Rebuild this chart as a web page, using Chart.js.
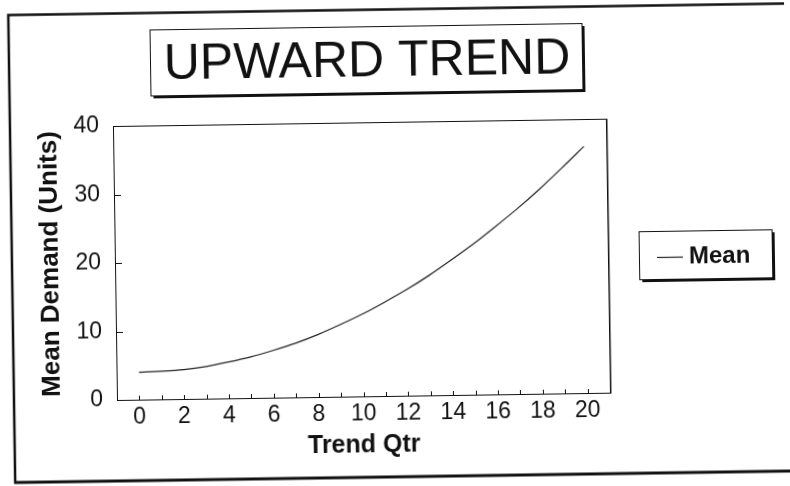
<!DOCTYPE html>
<html>
<head>
<meta charset="utf-8">
<script src="https://cdn.jsdelivr.net/npm/chart.js@4.4.0/dist/chart.umd.min.js"></script>
<style>
  html, body { margin: 0; padding: 0; background: #fff; }
  #wrap { position: relative; width: 790px; height: 486px; overflow: hidden; background: #fff; }
  canvas { display: block; transform: rotate(-0.85deg); transform-origin: 117px 400px; }
</style>
</head>
<body>
<div id="wrap"><canvas id="c" width="790" height="486"></canvas></div>
<script>
// ---- data ----
const titleText = "UPWARD TREND";
const xAxisTitle = "Trend Qtr";
const yAxisTitle = "Mean Demand (Units)";
const seriesName = "Mean";
const trendQtr = [0,1,2,3,4,5,6,7,8,9,10,11,12,13,14,15,16,17,18,19,20];
const meanDemand = [4.0,4.1,4.3,4.7,5.3,6.0,6.9,7.9,9.1,10.5,12.0,13.7,15.5,17.5,19.7,22.0,24.5,27.1,29.9,32.9,36.0];
const xTickLabels = ["0","2","4","6","8","10","12","14","16","18","20"];
const yTickValues = [0,10,20,30,40];

const FONT = "'Liberation Sans', Arial, sans-serif";

const deco = {
  id: 'deco',
  beforeDraw(chart) {
    const ctx = chart.ctx;
    ctx.save();
    ctx.fillStyle = '#fff';
    ctx.fillRect(0, 0, chart.width, chart.height);
    ctx.restore();
  },
  afterDraw(chart) {
    const ctx = chart.ctx;
    const a = chart.chartArea;
    const xs = chart.scales.x, ys = chart.scales.y;
    ctx.save();
    ctx.strokeStyle = '#111';
    ctx.fillStyle = '#111';
    // outer frame
    ctx.lineWidth = 2.5;
    ctx.beginPath();
    ctx.moveTo(800, 13.5); ctx.lineTo(14, 13.5); ctx.lineTo(14, 482);
    ctx.stroke();
    ctx.lineWidth = 3;
    ctx.beginPath();
    ctx.moveTo(13, 481); ctx.lineTo(800, 481);
    ctx.stroke();

    // title box
    const tb = {l: 155, t: 30, r: 587, b: 96};
    ctx.lineWidth = 1;
    ctx.strokeRect(tb.l + 0.5, tb.t + 0.5, tb.r - tb.l, tb.b - tb.t);
    ctx.fillRect(tb.l + 3, tb.b, tb.r - tb.l, 3);
    ctx.fillRect(tb.r, tb.t + 3, 3, tb.b - tb.t);
    ctx.font = "50px " + FONT;
    ctx.textAlign = 'center';
    ctx.textBaseline = 'middle';
    ctx.fillText(titleText, (tb.l + tb.r) / 2 + 1, 66);

    // plot frame
    ctx.lineWidth = 1;
    ctx.strokeRect(Math.round(a.left) + 0.5, Math.round(a.top) + 0.5,
                   Math.round(a.right - a.left), Math.round(a.bottom - a.top));
    ctx.fillRect(Math.round(a.right), Math.round(a.top), 1.5, Math.round(a.bottom - a.top) + 1);

    // inward tick marks
    ctx.beginPath();
    trendQtr.forEach(v => {
      const px = Math.round(xs.getPixelForValue(v)) + 0.5;
      ctx.moveTo(px, a.bottom); ctx.lineTo(px, a.bottom - 4);
    });
    yTickValues.forEach(v => {
      if (v === 0 || v === 40) return;
      const py = Math.round(ys.getPixelForValue(v)) + 0.5;
      ctx.moveTo(a.left, py); ctx.lineTo(a.left + 7, py);
    });
    ctx.stroke();

    // legend
    const lb = {l: 641, t: 239, r: 774, b: 287};
    ctx.lineWidth = 1;
    ctx.strokeRect(lb.l + 0.5, lb.t + 0.5, lb.r - lb.l, lb.b - lb.t);
    ctx.fillRect(lb.l + 3, lb.b, lb.r - lb.l, 3);
    ctx.fillRect(lb.r, lb.t + 3, 3, lb.b - lb.t);
    const ds = chart.data.datasets[0];
    ctx.strokeStyle = ds.borderColor;
    ctx.lineWidth = 1.2;
    ctx.beginPath();
    ctx.moveTo(659, 265.5); ctx.lineTo(685, 265.5);
    ctx.stroke();
    ctx.font = "bold 24px " + FONT;
    ctx.textAlign = 'left';
    ctx.textBaseline = 'middle';
    ctx.fillText(ds.label, 691, 265);
    ctx.restore();
  }
};

new Chart(document.getElementById('c'), {
  type: 'line',
  data: {
    datasets: [{
      label: seriesName,
      data: trendQtr.map((x, i) => ({x: x, y: meanDemand[i]})),
      borderColor: '#222',
      borderWidth: 1.2,
      pointRadius: 0,
      fill: false,
      cubicInterpolationMode: 'monotone'
    }]
  },
  options: {
    responsive: false,
    animation: false,
    devicePixelRatio: 1,
    layout: { padding: { top: 126, right: 180, bottom: 0, left: 0 } },
    plugins: { legend: { display: false }, title: { display: false }, tooltip: { enabled: false } },
    scales: {
      x: {
        type: 'linear',
        min: -1, max: 21,
        afterFit(s) { s.height = 86; },
        grid: { display: false, drawTicks: false },
        border: { display: false },
        ticks: {
          stepSize: 1, autoSkip: false, maxRotation: 0, padding: 6,
          color: '#111',
          font: { family: FONT, size: 23, lineHeight: 1 },
          callback: (v) => xTickLabels.includes(String(v)) ? String(v) : ''
        },
        title: {
          display: true, text: xAxisTitle, color: '#111',
          font: { family: FONT, size: 25, weight: 'bold', lineHeight: 1.2 },
          padding: { top: 0, bottom: 22 }
        }
      },
      y: {
        min: 0, max: 40,
        afterFit(s) { s.width = 117; },
        grid: { display: false, drawTicks: false },
        border: { display: false },
        ticks: {
          stepSize: 10, padding: 14, color: '#111',
          font: { family: FONT, size: 23, lineHeight: 1 },
          callback: (v) => yTickValues.includes(v) ? String(v) : ''
        },
        title: {
          display: true, text: yAxisTitle, color: '#111',
          font: { family: FONT, size: 26, weight: 'bold', lineHeight: 1.2 },
          padding: { top: 37, bottom: 0 }
        }
      }
    }
  },
  plugins: [deco]
});
</script>
</body>
</html>
